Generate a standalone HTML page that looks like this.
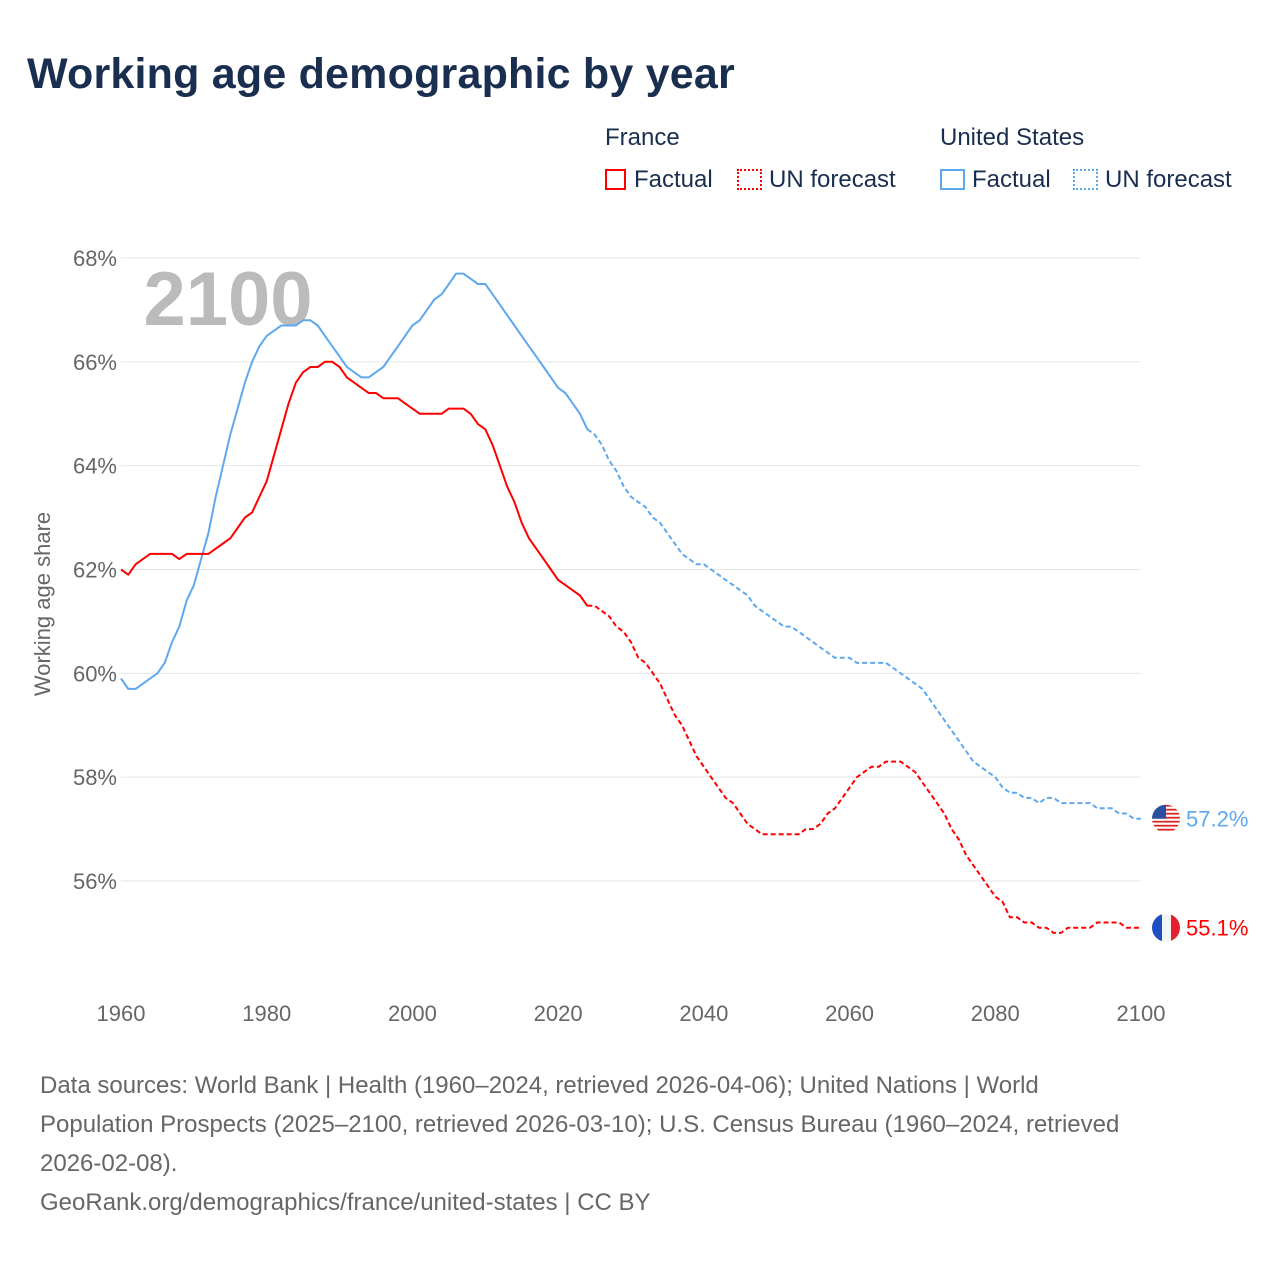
<!DOCTYPE html>
<html><head><meta charset="utf-8">
<style>
body{margin:0;background:#fff;font-family:"Liberation Sans",sans-serif;}
#wrap{position:relative;width:1280px;height:1280px;overflow:hidden;}
.t{position:absolute;white-space:nowrap;}
</style></head><body>
<div id="wrap">
<div class="t" style="left:27px;top:50px;font-size:43px;font-weight:bold;color:#1a2e4f;letter-spacing:0.2px;">Working age demographic by year</div>
<div class="t" style="left:605px;top:124px;font-size:24px;color:#1a2e4f;">France</div>
<div class="t" style="left:940px;top:124px;font-size:24px;color:#1a2e4f;">United States</div>
<div class="t" style="left:605px;top:166px;font-size:24px;color:#1a2e4f;"><span style="display:inline-block;width:21px;height:21px;border:2px solid #f00;box-sizing:border-box;vertical-align:-3px;margin-right:8px"></span>Factual</div>
<div class="t" style="left:737px;top:166px;font-size:24px;color:#1a2e4f;"><span style="display:inline-block;width:25px;height:21px;border:2px dotted #f00;box-sizing:border-box;vertical-align:-3px;margin-right:7px"></span>UN forecast</div>
<div class="t" style="left:940px;top:166px;font-size:24px;color:#1a2e4f;"><span style="display:inline-block;width:25px;height:21px;border:2px solid #5ea8ee;box-sizing:border-box;vertical-align:-3px;margin-right:7px"></span>Factual</div>
<div class="t" style="left:1073px;top:166px;font-size:24px;color:#1a2e4f;"><span style="display:inline-block;width:25px;height:21px;border:2px dotted #5ea8ee;box-sizing:border-box;vertical-align:-3px;margin-right:7px"></span>UN forecast</div>
<svg id="chart" width="1280" height="1280" style="position:absolute;left:0;top:0"></svg>
<div class="t" style="left:40px;top:1066px;font-size:24px;line-height:39px;color:#666;">Data sources: World Bank | Health (1960–2024, retrieved 2026-04-06); United Nations | World<br>Population Prospects (2025–2100, retrieved 2026-03-10); U.S. Census Bureau (1960–2024, retrieved<br>2026-02-08).<br>GeoRank.org/demographics/france/united-states | CC BY</div>
</div>
<script>
const yTicks=[56,58,60,62,64,66,68];
const xTicks=[1960,1980,2000,2020,2040,2060,2080,2100];
const frFact=[62.0,61.9,62.1,62.2,62.3,62.3,62.3,62.3,62.2,62.3,62.3,62.3,62.3,62.4,62.5,62.6,62.8,63.0,63.1,63.4,63.7,64.2,64.7,65.2,65.6,65.8,65.9,65.9,66.0,66.0,65.9,65.7,65.6,65.5,65.4,65.4,65.3,65.3,65.3,65.2,65.1,65.0,65.0,65.0,65.0,65.1,65.1,65.1,65.0,64.8,64.7,64.4,64.0,63.6,63.3,62.9,62.6,62.4,62.2,62.0,61.8,61.7,61.6,61.5,61.3];
const frFc=[61.3,61.3,61.2,61.1,60.9,60.8,60.6,60.3,60.2,60.0,59.8,59.5,59.2,59.0,58.7,58.4,58.2,58.0,57.8,57.6,57.5,57.3,57.1,57.0,56.9,56.9,56.9,56.9,56.9,56.9,57.0,57.0,57.1,57.3,57.4,57.6,57.8,58.0,58.1,58.2,58.2,58.3,58.3,58.3,58.2,58.1,57.9,57.7,57.5,57.3,57.0,56.8,56.5,56.3,56.1,55.9,55.7,55.6,55.3,55.3,55.2,55.2,55.1,55.1,55.0,55.0,55.1,55.1,55.1,55.1,55.2,55.2,55.2,55.2,55.1,55.1,55.1];
const usFact=[59.9,59.7,59.7,59.8,59.9,60.0,60.2,60.6,60.9,61.4,61.7,62.2,62.7,63.4,64.0,64.6,65.1,65.6,66.0,66.3,66.5,66.6,66.7,66.7,66.7,66.8,66.8,66.7,66.5,66.3,66.1,65.9,65.8,65.7,65.7,65.8,65.9,66.1,66.3,66.5,66.7,66.8,67.0,67.2,67.3,67.5,67.7,67.7,67.6,67.5,67.5,67.3,67.1,66.9,66.7,66.5,66.3,66.1,65.9,65.7,65.5,65.4,65.2,65.0,64.7];
const usFc=[64.7,64.6,64.4,64.1,63.9,63.6,63.4,63.3,63.2,63.0,62.9,62.7,62.5,62.3,62.2,62.1,62.1,62.0,61.9,61.8,61.7,61.6,61.5,61.3,61.2,61.1,61.0,60.9,60.9,60.8,60.7,60.6,60.5,60.4,60.3,60.3,60.3,60.2,60.2,60.2,60.2,60.2,60.1,60.0,59.9,59.8,59.7,59.5,59.3,59.1,58.9,58.7,58.5,58.3,58.2,58.1,58.0,57.8,57.7,57.7,57.6,57.6,57.5,57.6,57.6,57.5,57.5,57.5,57.5,57.5,57.4,57.4,57.4,57.3,57.3,57.2,57.2];
const x=y=>121+(y-1960)*(1020/140);
const yv=v=>258+(68-v)*(623/12);
const svg=document.getElementById('chart');
const NS='http://www.w3.org/2000/svg';
function mk(tag,attrs,parent){const e=document.createElementNS(NS,tag);for(const k in attrs)e.setAttribute(k,attrs[k]);(parent||svg).appendChild(e);return e;}
yTicks.forEach(v=>{
 const g=mk('line',{x1:121,x2:1141,y1:yv(v),y2:yv(v),stroke:'#e6e6e6','stroke-width':1});
 
 
 const t=mk('text',{x:117,y:yv(v)+8,'text-anchor':'end','font-size':22,fill:'#666','font-family':'Liberation Sans, sans-serif'});
 t.textContent=v+'%';
 
 
});
xTicks.forEach(v=>{
 const t=mk('text',{x:x(v),y:1021,'text-anchor':'middle','font-size':22,fill:'#666','font-family':'Liberation Sans, sans-serif'});
 t.textContent=v;
 
 
});
const yl=mk('text',{transform:'translate(50,604) rotate(-90)','text-anchor':'middle','font-size':22,fill:'#666','font-family':'Liberation Sans, sans-serif'});
yl.textContent='Working age share';


const yr=mk('text',{x:228,y:325,'text-anchor':'middle','font-size':76,'font-weight':'bold',fill:'#bbb','font-family':'Liberation Sans, sans-serif'});
yr.textContent='2100';


function line(arr,start,color,dash,name){
 const d=arr.map((v,i)=>(i?'L':'M')+x(start+i).toFixed(1)+','+yv(v).toFixed(1)).join('');
 const p=mk('path',{d:d,fill:'none',stroke:color,'stroke-width':2,'stroke-dasharray':dash||'none','stroke-linejoin':'round'});
 
 
}
line(usFact,1960,'#5ea8ee',null,'us-factual-line');
line(usFc,2024,'#5ea8ee','5,3','us-forecast-line');
line(frFact,1960,'#f00',null,'france-factual-line');
line(frFc,2024,'#f00','5,3','france-forecast-line');
const usEnd=usFc[usFc.length-1], frEnd=frFc[frFc.length-1];
const fx=1166;
const defs=mk('defs',{});
const c1=mk('clipPath',{id:'cu'},defs);mk('circle',{cx:fx,cy:yv(usEnd),r:14},c1);
const c2=mk('clipPath',{id:'cf'},defs);mk('circle',{cx:fx,cy:yv(frEnd),r:14},c2);
const gu=mk('g',{'clip-path':'url(#cu)'});


for(let i=0;i<7;i++)mk('rect',{x:fx-14,y:yv(usEnd)-14+i*4,width:28,height:2,fill:'#d22'},gu);
for(let i=0;i<7;i++)mk('rect',{x:fx-14,y:yv(usEnd)-12+i*4,width:28,height:2,fill:'#fff'},gu);
mk('rect',{x:fx-14,y:yv(usEnd)-14,width:14,height:14,fill:'#2a4ea0'},gu);
const gf=mk('g',{'clip-path':'url(#cf)'});


mk('rect',{x:fx-14,y:yv(frEnd)-14,width:10,height:28,fill:'#1f4fbf'},gf);
mk('rect',{x:fx-4,y:yv(frEnd)-14,width:9,height:28,fill:'#f4f4f4'},gf);
mk('rect',{x:fx+5,y:yv(frEnd)-14,width:9,height:28,fill:'#e4202e'},gf);
const lu=mk('text',{x:1186,y:yv(usEnd)+8,'font-size':22,fill:'#5ea8ee','font-family':'Liberation Sans, sans-serif'});
lu.textContent=usEnd.toFixed(1)+'%';


const lf=mk('text',{x:1186,y:yv(frEnd)+8,'font-size':22,fill:'#f00','font-family':'Liberation Sans, sans-serif'});
lf.textContent=frEnd.toFixed(1)+'%';


</script>
</body></html>
